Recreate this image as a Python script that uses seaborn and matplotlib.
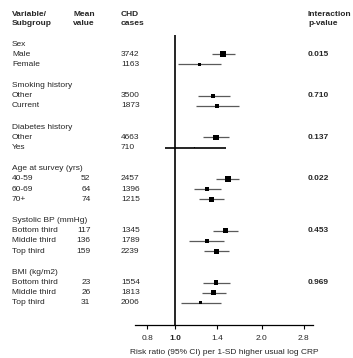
import numpy as np
import pandas as pd
import seaborn as sns
import matplotlib.pyplot as plt
from matplotlib.transforms import blended_transform_factory

groups = ["Sex", "Smoking history", "Diabetes history", "Age at survey (yrs)",
          "Systolic BP (mmHg)", "BMI (kg/m2)"]
subgroups = [["Male", "Female"], ["Other", "Current"], ["Other", "Yes"],
             ["40-59", "60-69", "70+"],
             ["Bottom third", "Middle third", "Top third"],
             ["Bottom third", "Middle third", "Top third"]]
mean_values = [["", ""], ["", ""], ["", ""], ["52", "64", "74"],
               ["117", "136", "159"], ["23", "26", "31"]]
chd_cases = [["3742", "1163"], ["3500", "1873"], ["4663", "710"],
             ["2457", "1396", "1215"], ["1345", "1789", "2239"],
             ["1554", "1813", "2006"]]
p_values = ["0.015", "0.710", "0.137", "0.022", "0.453", "0.969"]

rr = [1.47, 1.215, 1.36, 1.40, 1.39, 1.17, 1.53, 1.29, 1.34,
      1.50, 1.29, 1.39, 1.39, 1.36, 1.23]
ci_low = [1.35, 1.027, 1.205, 1.18, 1.25, 0.92, 1.39, 1.16, 1.215,
          1.36, 1.12, 1.26, 1.25, 1.24, 1.05]
ci_high = [1.62, 1.45, 1.55, 1.67, 1.54, 1.50, 1.67, 1.44, 1.48,
           1.66, 1.48, 1.54, 1.55, 1.50, 1.45]
# square side in pixels (weight of each estimate)
box_px = [5.5, 2.8, 4.2, 3.3, 5.3, 1.8, 5.5, 4.5, 4.7,
          4.8, 3.5, 5.0, 4.7, 5.2, 3.0]

xticks = [0.8, 1.0, 1.4, 2.0, 2.8]
xtick_labels = ["0.8", "1.0", "1.4", "2.0", "2.8"]

# row layout: header row, subgroup rows, then a slightly taller blank
blank = 1.1
rows = []
row = 0.0
header_rows, first_rows = [], []
for g, subs in zip(groups, subgroups):
    header_rows.append(row)
    row += 1
    first_rows.append(row)
    for s in subs:
        rows.append(row)
        row += 1
    row += blank

df = pd.DataFrame({"row": rows, "rr": rr, "lo": ci_low, "hi": ci_high,
                   "s": [(p * 0.72) ** 2 for p in box_px]})

sns.set_style("white")
plt.rcParams['font.family'] = ['Liberation Sans', 'DejaVu Sans']
W, H = 353, 358
fig = plt.figure(figsize=(W / 100, H / 100), dpi=100)

row_px0, row_step = 44.0, 10.15
ax_top, ax_bot = 35, 325
ax = fig.add_axes([135 / W, 1 - ax_bot / H, (313 - 135) / W, (ax_bot - ax_top) / H])
ax.set_xscale("log")
ax.set_xlim(0.726, 3.02)
ax.set_ylim((ax_bot - row_px0) / row_step, (ax_top - row_px0) / row_step)

ax.axvline(1.0, color="black", lw=1.2, zorder=1)
for i, r in df.iterrows():
    yes_row = (i == 5)
    ax.hlines(r["row"], r["lo"], r["hi"], color="black" if yes_row else "#5a5a5a",
              lw=1.2 if yes_row else 0.9, zorder=2)
sns.scatterplot(data=df, x="rr", y="row", marker="s", color="black",
                s=df["s"].tolist(), linewidth=0, ax=ax, legend=False, zorder=3)

for sp in ["top", "right", "left"]:
    ax.spines[sp].set_visible(False)
ax.spines["bottom"].set_color("black")
ax.spines["bottom"].set_linewidth(0.9)
ax.set_yticks([])
ax.set_xticks(xticks)
ax.set_xticklabels(xtick_labels)
ax.minorticks_off()
ax.tick_params(axis="x", direction="out", length=3, width=0.8, color="black",
               labelsize=6, pad=4, bottom=True)
ax.get_xticklabels()[1].set_fontweight("bold")
ax.set_xlabel("Risk ratio (95% CI) per 1-SD higher usual log CRP", fontsize=6, labelpad=5)
ax.set_ylabel("")

fs = 6
tr = blended_transform_factory(fig.transFigure, ax.transData)
k = 0
for gi, g in enumerate(groups):
    fig.text(12 / W, header_rows[gi], g, transform=tr, fontsize=fs, va="center", ha="left")
    fig.text(308 / W, first_rows[gi], p_values[gi], transform=tr, fontsize=fs,
             va="center", ha="left", fontweight="bold")
    for si, s in enumerate(subgroups[gi]):
        y = rows[k]
        fig.text(12 / W, y, s, transform=tr, fontsize=fs, va="center", ha="left")
        fig.text(90.5 / W, y, mean_values[gi][si], transform=tr, fontsize=fs, va="center", ha="right")
        fig.text(121 / W, y, chd_cases[gi][si], transform=tr, fontsize=fs, va="center", ha="left")
        k += 1

for x, top, bot in [(12, "Variable/", "Subgroup"), (73, "Mean", "value"),
                    (121, "CHD", "cases"), (308, "Interaction", "p-value")]:
    fig.text(x / W, 1 - 14 / H, top, fontsize=fs, fontweight="bold", va="center", ha="left")
    fig.text(x / W, 1 - 23.5 / H, bot, fontsize=fs, fontweight="bold", va="center", ha="left")

fig.savefig("out.png", dpi=100)
